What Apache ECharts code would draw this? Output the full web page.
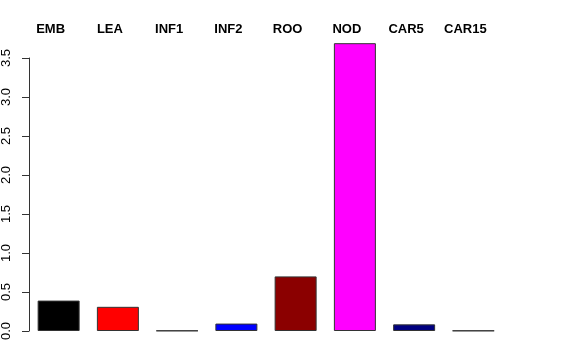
<!DOCTYPE html>
<html>
<head>
<meta charset="utf-8">
<script src="https://cdn.jsdelivr.net/npm/echarts@6/dist/echarts.min.js"></script>
<style>html,body{margin:0;padding:0;background:#fff}#c{width:576px;height:360px}</style>
</head>
<body>
<div id="c"></div>
<script>
var categories = ['EMB', 'LEA', 'INF1', 'INF2', 'ROO', 'NOD', 'CAR5', 'CAR15'];
var values = [0.39, 0.31, 0.005, 0.095, 0.70, 3.69, 0.085, 0.005];
var barColors = ['#000000', '#FF0000', '#00CD00', '#0000FF', '#8B0000', '#FF00FF', '#000080', '#BEBEBE'];
var yTicks = [0, 0.5, 1, 1.5, 2, 2.5, 3, 3.5];

var chart = echarts.init(document.getElementById('c'), null, {renderer: 'canvas'});
chart.setOption({
  animation: false,
  backgroundColor: '#fff',
  grid: {left: 29, width: 474, top: 58, bottom: 29},
  xAxis: {
    type: 'category',
    position: 'top',
    data: categories,
    axisLine: {show: false},
    axisTick: {show: false},
    splitLine: {show: false},
    axisLabel: {
      interval: 0,
      margin: 22,
      fontFamily: 'Liberation Sans, Arial, sans-serif',
      fontWeight: 'bold',
      fontSize: 13,
      color: '#000',
      padding: [0, 16, 0, 0]
    }
  },
  yAxis: {
    type: 'value',
    min: 0,
    max: 3.5,
    interval: 0.5,
    axisLine: {show: true, lineStyle: {color: '#333', width: 1}},
    axisTick: {show: true, length: 7, lineStyle: {color: '#333'}},
    splitLine: {show: false},
    axisLabel: {
      rotate: 90,
      margin: 16,
      fontFamily: 'Liberation Sans, Arial, sans-serif',
      fontSize: 13,
      color: '#000',
      formatter: function (v) { return yTicks.indexOf(v) >= 0 ? v.toFixed(1) : ''; }
    }
  },
  series: [{
    type: 'bar',
    clip: false,
    barWidth: 42,
    data: values.map(function (v, i) {
      return {value: v, itemStyle: {color: barColors[i]}};
    }),
    itemStyle: {borderColor: '#333', borderWidth: 1}
  }]
});
</script>
</body>
</html>
